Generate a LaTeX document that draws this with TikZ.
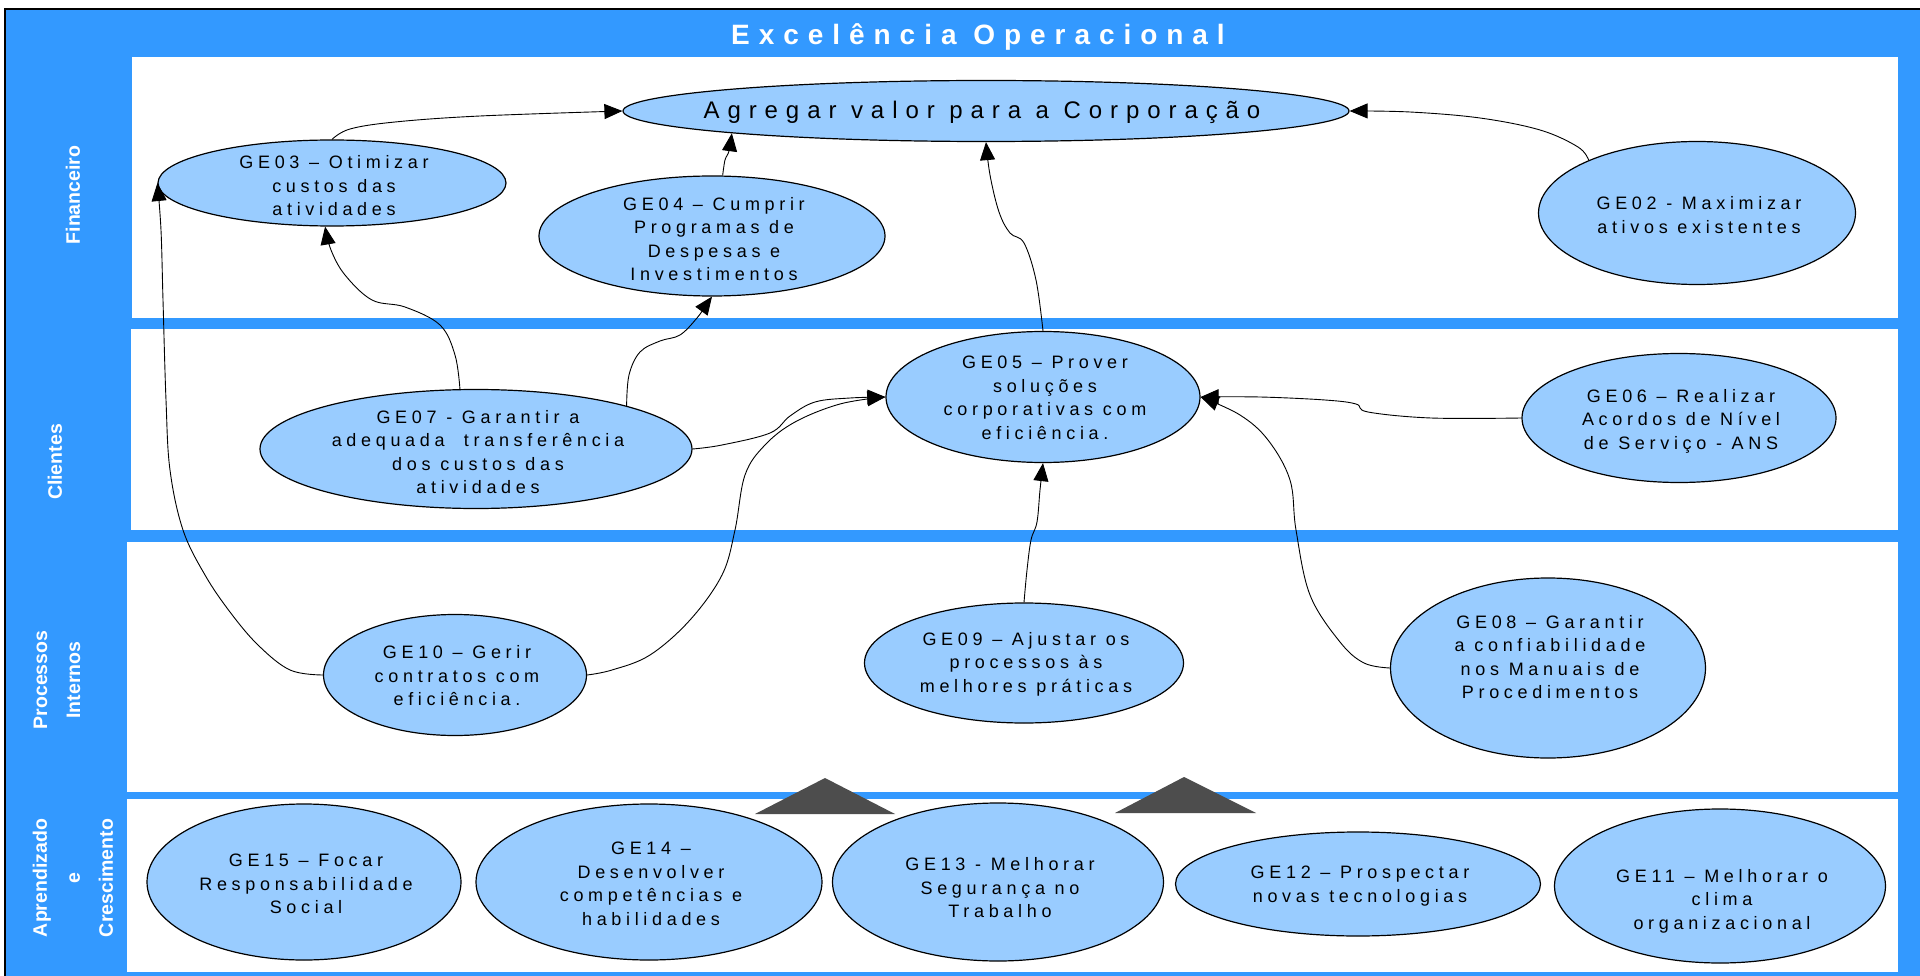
\documentclass[tikz,border=0pt]{standalone}
\usepackage{fontspec}
\setmainfont{Liberation Sans}
\newfontfamily\spfont[LetterSpace=26]{Liberation Sans}
\newfontfamily\agrfont[LetterSpace=33]{Liberation Sans}
\newfontfamily\titlefont[LetterSpace=32]{Liberation Sans}
\usetikzlibrary{shapes.geometric,arrows.meta}
\definecolor{bandblue}{RGB}{51,153,255}
\definecolor{goalblue}{RGB}{153,204,255}
\definecolor{tridark}{RGB}{77,77,77}
\begin{document}
\begin{tikzpicture}[x=1pt,y=-1pt,
  goal/.style={ellipse, draw=black, line width=1.2pt, fill=goalblue, inner sep=0pt},
  gtext/.style={align=center, font={\spfont\fontsize{18}{23.5}\selectfont}, inner sep=0pt},
  conn/.style={draw=black, line width=0.9pt, -{Triangle[length=18pt,width=15pt]}},
  lane/.style={white, align=center, rotate=90, font={\bfseries\fontsize{19.5}{33}\selectfont}, inner sep=0pt},
  panel/.style={fill=white},
  tri/.style={fill=tridark}
]
\useasboundingbox (0,0) rectangle (1920,976);
\fill[white] (0,0) rectangle (1920,976);
\fill[bandblue] (5,9) rectangle (1920,976);
\draw[line width=1.2pt] (5,976) -- (5,9) -- (1920,9);
% panels
\fill[panel] (132,57) rectangle (1898,318);
\fill[panel] (131,329) rectangle (1898,530);
\fill[panel] (127,542) rectangle (1898,792);
\fill[panel] (127,799) rectangle (1898,972);
% title
\node[white, inner sep=0pt, font={\titlefont\bfseries\fontsize{28}{30}\selectfont}] (title) at (978,37) {Excelência Operacional};
% lane labels
\node[lane] (lfin) at (73,195) {Financeiro};
\node[lane] (lcli) at (55,462) {Clientes};
\node[lane] (lpro) at (57,680) {Processos\\Internos};
\node[lane] (lapr) at (73,878) {Aprendizado\\e\\Crescimento};
% goals
\node[goal, minimum width=726, minimum height=61] (agr) at (986,111) {};
\node[inner sep=0pt, font={\agrfont\fontsize{24}{26}\selectfont}] (agrt) at (982,112) {Agregar valor para a Corporação};
\node[goal, minimum width=348, minimum height=86] (ge03) at (332,183) {};
\node[gtext] (ge03t) at (334,186) {GE03 – Otimizar\\custos das\\atividades};
\node[goal, minimum width=346, minimum height=120] (ge04) at (712,236) {};
\node[gtext] (ge04t) at (714,239) {GE04 – Cumprir\\Programas de\\Despesas e\\Investimentos};
\node[goal, minimum width=317, minimum height=143] (ge02) at (1697,213) {};
\node[gtext] (ge02t) at (1699,215) {GE02 - Maximizar\\ativos existentes};
\node[goal, minimum width=314, minimum height=131] (ge05) at (1043,397) {};
\node[gtext] (ge05t) at (1045,398) {GE05 – Prover\\soluções\\corporativas com\\eficiência.};
\node[goal, minimum width=314, minimum height=129] (ge06) at (1679,418) {};
\node[gtext] (ge06t) at (1681,421) {GE06 – Realizar\\Acordos de Nível\\de Serviço - ANS};
\node[goal, minimum width=432, minimum height=119] (ge07) at (476,449) {};
\node[gtext] (ge07t) at (478,452) {GE07 - Garantir a\\adequada~ transferência\\dos custos das\\atividades};
\node[goal, minimum width=263, minimum height=121] (ge10) at (455,675) {};
\node[gtext] (ge10t) at (457,676) {GE10 – Gerir\\contratos com\\eficiência.};
\node[goal, minimum width=319, minimum height=120] (ge09) at (1024,663) {};
\node[gtext] (ge09t) at (1026,664) {GE09 – Ajustar os\\processos às\\melhores práticas};
\node[goal, minimum width=315, minimum height=180] (ge08) at (1548,668) {};
\node[gtext] (ge08t) at (1550,657) {GE08 – Garantir\\a confiabilidade\\nos Manuais de\\Procedimentos};
\node[goal, minimum width=314, minimum height=156] (ge15) at (304,882) {};
\node[gtext] (ge15t) at (306,884) {GE15 – Focar\\Responsabilidade\\Social};
\node[goal, minimum width=346, minimum height=156] (ge14) at (649,882) {};
\node[gtext] (ge14t) at (651,884) {GE14 –\\Desenvolver\\competências e\\habilidades};
\node[goal, minimum width=331, minimum height=158] (ge13) at (998,882) {};
\node[gtext] (ge13t) at (1000,888) {GE13 - Melhorar\\Segurança no\\Trabalho};
\node[goal, minimum width=365, minimum height=104] (ge12) at (1358,884) {};
\node[gtext] (ge12t) at (1360,886) {GE12 – Prospectar\\novas tecnologias};
\node[goal, minimum width=331, minimum height=154] (ge11) at (1720,886) {};
\node[gtext] (ge11t) at (1722,901) {GE11 – Melhorar o\\clima\\organizacional};
% triangles
\fill[tri] (755,814) -- (825,778) -- (895,814) -- cycle;
\fill[tri] (1115,813) -- (1184,777) -- (1256,813) -- cycle;
% connectors
\draw[conn] plot[smooth, tension=0.6] coordinates {(ge03.north) (350,129) (395,122) (480,116) (agr.west)};
\draw[conn] plot[smooth, tension=0.6] coordinates {(ge04.80) (725,160) (729,151) (agr.185)};
\draw[conn] plot[smooth, tension=0.6] coordinates {(ge05.north) (1036,280) (1024,243) (1010,233) (999,212) (990,175) (agr.south)};
\draw[conn] plot[smooth, tension=0.6] coordinates {(ge02.154) (1578,147) (1540,130) (1480,118) (1410,112) (agr.east)};
\draw[conn] plot[smooth, tension=0.6] coordinates {(ge07.105) (455,355) (440,325) (405,307) (372,300) (345,275) (331,250) (ge03.261)};
\draw[conn] plot[smooth, tension=0.6] coordinates {(ge07.16) (629,375) (640,352) (660,341) (680,335) (697,318) (706,305) (ge04.south)};
\draw[conn] plot[smooth, tension=0.6] coordinates {(ge07.east) (722,445) (770,433) (790,416) (815,402) (850,398) (ge05.west)};
\draw[conn] plot[smooth, tension=0.6] coordinates {(ge10.east) (612,670) (650,655) (690,620) (722,575) (735,530) (745,475) (765,445) (795,422) (840,404) (ge05.west)};
\draw[conn] plot[smooth, tension=0.6] coordinates {(ge10.west) (290,670) (258,645) (230,612) (205,575) (183,530) (170,470) (166,400) (163,300) (161,230) (ge03.west)};
\draw[conn] plot[smooth, tension=0.6] coordinates {(ge09.north) (1027,570) (1031,540) (1037,522) (1040,490) (ge05.south)};
\draw[conn] plot[smooth, tension=0.6] coordinates {(ge08.west) (1364,663) (1340,642) (1310,595) (1296,530) (1290,480) (1268,440) (1240,415) (ge05.east)};
\draw[conn] plot[smooth, tension=0.6] coordinates {(ge06.west) (1431,418) (1368,412) (1356,404) (1325,400) (1260,397) (ge05.east)};
\end{tikzpicture}
\end{document}
